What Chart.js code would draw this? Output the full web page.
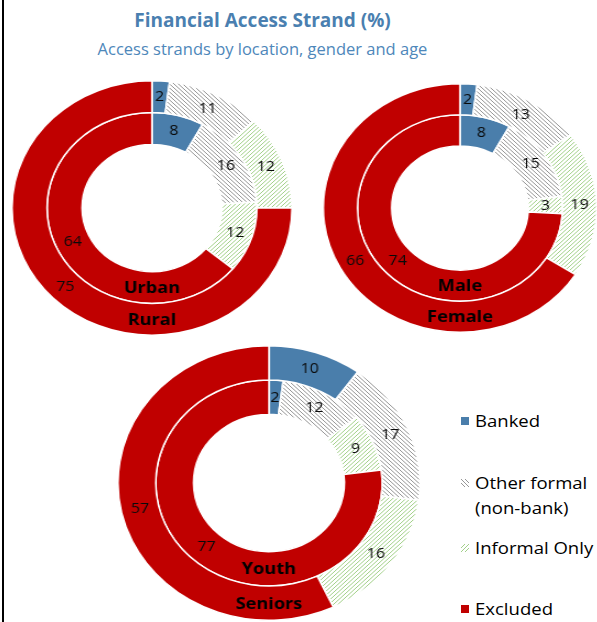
<!DOCTYPE html>
<html>
<head>
<meta charset="utf-8">
<script src="https://cdn.jsdelivr.net/npm/chart.js@4.4.0/dist/chart.umd.min.js"></script>
<style>
  html, body { margin: 0; padding: 0; background: #fff; }
  body { width: 597px; height: 622px; position: relative; overflow: hidden; font-family: "Open Sans", "Noto Sans", sans-serif; }
  .frame { position: absolute; left: 2px; top: 0; width: 2px; height: 622px; background: #000; }
  .title { position: absolute; left: 0; width: 525px; top: 7px; text-align: center; color: #4a7fb0; font-weight: bold; font-size: 19px; }
  .subtitle { position: absolute; left: 0; width: 525px; top: 37px; text-align: center; color: #4e87ba; font-size: 16.5px; }
  canvas.ring { position: absolute; transform: scaleX(1.1); transform-origin: center center; }
  .legend { position: absolute; left: 460px; top: 0; font-size: 17px; color: #000; }
  .legend .item { position: absolute; left: 0; white-space: nowrap; line-height: 25px; }
  .legend canvas { position: absolute; left: 1px; }
  .legend span { position: absolute; left: 15px; transform: scaleX(1.09); transform-origin: left center; }
</style>
</head>
<body>
<div class="frame"></div>
<div class="title">Financial Access Strand (%)</div>
<div class="subtitle">Access strands by location, gender and age</div>

<canvas id="locChart" class="ring" width="256" height="256" style="left:24px; top:80px;"></canvas>
<canvas id="genderChart" class="ring" width="250" height="250" style="left:335px; top:83px;"></canvas>
<canvas id="ageChart" class="ring" width="276" height="276" style="left:131px; top:345px;"></canvas>

<div class="legend" id="legend"></div>

<script>
// access strands, in drawing order (clockwise from 12 o'clock)
const strands = ['Banked', 'Other formal (non-bank)', 'Informal Only', 'Excluded'];

const rural = [2, 11, 12, 75];
const urban = [8, 16, 12, 64];
const female = [2, 13, 19, 66];
const male = [8, 15, 3, 74];
const seniors = [10, 17, 16, 57];
const youth = [2, 12, 9, 77];

const BLUE = '#4a7eab';
const RED = '#c00000';
const GREY_LINE = '#979797';
const GREEN_LINE = '#a3d08a';

// small repeating diagonal hatch, 4px period
function hatch(ctx, color, dir) {
    const tile = document.createElement('canvas');
    tile.width = 4;
    tile.height = 4;
    const g = tile.getContext('2d');
    g.fillStyle = color;
    for (let i = 0; i < 4; i++) {
        const x = dir === 'down' ? i : 3 - i;
        g.fillRect(x, i, 1, 1);
    }
    return ctx.createPattern(tile, 'repeat');
}

function strandFills(ctx) {
    return [BLUE, hatch(ctx, GREY_LINE, 'down'), hatch(ctx, GREEN_LINE, 'up'), RED];
}

// values on each slice, and the ring name at the bottom of each ring
const ringLabels = {
    id: 'ringLabels',
    afterDatasetsDraw(chart) {
        const ctx = chart.ctx;
        ctx.save();
        ctx.textAlign = 'center';
        ctx.textBaseline = 'middle';
        chart.data.datasets.forEach((ds, i) => {
            const meta = chart.getDatasetMeta(i);
            ctx.fillStyle = '#0a0a0a';
            ctx.font = '14.5px "Open Sans", sans-serif';
            meta.data.forEach((arc, j) => {
                const pos = arc.tooltipPosition();
                ctx.fillText(String(ds.data[j]), pos.x, pos.y);
            });
            const first = meta.data[0];
            const mid = (first.innerRadius + first.outerRadius) / 2;
            ctx.fillStyle = '#000';
            ctx.font = 'bold 16.5px "Open Sans", sans-serif';
            ctx.fillText(ds.label, first.x, first.y + mid + 1);
        });
        ctx.restore();
    }
};

function makeRing(id, outerName, outerValues, innerName, innerValues) {
    const canvas = document.getElementById(id);
    const fills = strandFills(canvas.getContext('2d'));
    return new Chart(canvas, {
        type: 'doughnut',
        data: {
            labels: strands,
            datasets: [
                { label: outerName, data: outerValues, backgroundColor: fills, borderColor: '#fff', borderWidth: 1.5 },
                { label: innerName, data: innerValues, backgroundColor: fills, borderColor: '#fff', borderWidth: 1.5 },
            ],
        },
        options: {
            responsive: false,
            animation: false,
            cutout: '50%',
            layout: { padding: 0 },
            plugins: {
                legend: { display: false },
                tooltip: { enabled: false },
            },
        },
        plugins: [ringLabels],
    });
}

makeRing('locChart', 'Rural', rural, 'Urban', urban);
makeRing('genderChart', 'Female', female, 'Male', male);
makeRing('ageChart', 'Seniors', seniors, 'Youth', youth);

// legend beside the age chart
const legendRows = [
    { text: ['Banked'], y: 420 },
    { text: ['Other formal', '(non-bank)'], y: 482 },
    { text: ['Informal Only'], y: 547 },
    { text: ['Excluded'], y: 608 },
];
const legend = document.getElementById('legend');
legendRows.forEach((row, k) => {
    const item = document.createElement('div');
    item.className = 'item';
    item.style.top = (row.y - 12.5) + 'px';
    const sw = document.createElement('canvas');
    sw.width = 8;
    sw.height = 8;
    sw.style.top = '9px';
    const sctx = sw.getContext('2d');
    sctx.fillStyle = strandFills(sctx)[k];
    sctx.fillRect(0, 0, 8, 8);
    const label = document.createElement('span');
    label.innerHTML = row.text.join('<br>');
    item.appendChild(sw);
    item.appendChild(label);
    legend.appendChild(item);
});
</script>
</body>
</html>
